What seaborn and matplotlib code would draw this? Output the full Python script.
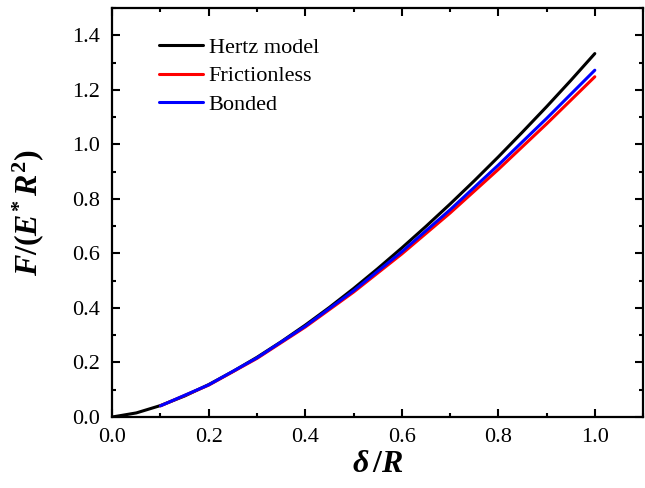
import numpy as np
import pandas as pd
import matplotlib
matplotlib.use('Agg')
import matplotlib.pyplot as plt
from matplotlib.ticker import MultipleLocator
import seaborn as sns

# values
hertz_x = [0.0, 0.05, 0.1, 0.15, 0.2, 0.25, 0.3, 0.35, 0.4, 0.45, 0.5,
           0.55, 0.6, 0.65, 0.7, 0.75, 0.8, 0.85, 0.9, 0.95, 1.0]
hertz_y = [0.0, 0.015, 0.042, 0.077, 0.119, 0.167, 0.219, 0.276, 0.337, 0.402, 0.471,
           0.544, 0.620, 0.699, 0.781, 0.866, 0.954, 1.045, 1.138, 1.234, 1.333]

fe_x = [0.1, 0.2, 0.3, 0.4, 0.5, 0.6, 0.7, 0.8, 0.9, 1.0]
frictionless_y = [0.041, 0.117, 0.215, 0.330, 0.458, 0.598, 0.748, 0.908, 1.075, 1.248]
bonded_y = [0.041, 0.118, 0.217, 0.333, 0.463, 0.606, 0.760, 0.924, 1.095, 1.272]

sns.set_style('ticks', {'axes.edgecolor': 'black', 'text.color': 'black',
                        'axes.labelcolor': 'black', 'xtick.color': 'black',
                        'ytick.color': 'black'})
plt.rcParams['font.family'] = ['Liberation Serif', 'DejaVu Serif']
plt.rcParams['mathtext.fontset'] = 'custom'
plt.rcParams['mathtext.it'] = 'Liberation Serif:italic:bold'
plt.rcParams['mathtext.rm'] = 'Liberation Serif:bold'
plt.rcParams['mathtext.bf'] = 'Liberation Serif:bold'

fig = plt.figure(figsize=(6.45, 4.88), dpi=100)
ax = fig.add_axes([0.174, 0.1455, 0.823, 0.838])

sns.lineplot(x=hertz_x, y=hertz_y, color='black', lw=2.2, label='Hertz model', ax=ax)
sns.lineplot(x=fe_x, y=frictionless_y, color='red', lw=2.2, label='Frictionless', ax=ax)
sns.lineplot(x=fe_x, y=bonded_y, color='blue', lw=2.2, label='Bonded', ax=ax)

ax.set_xlim(0, 1.1)
ax.set_ylim(0, 1.5)
ax.xaxis.set_minor_locator(MultipleLocator(0.1))
ax.yaxis.set_minor_locator(MultipleLocator(0.1))
ax.set_xticks(np.arange(0, 1.01, 0.2))
ax.set_yticks(np.arange(0, 1.41, 0.2))
ax.xaxis.set_major_formatter(lambda v, p: f'{v:.1f}')
ax.yaxis.set_major_formatter(lambda v, p: f'{v:.1f}')

ax.tick_params(which='both', direction='in', top=True, right=True, width=1.5, colors='black')
ax.tick_params(which='major', length=6, labelsize=16)
ax.tick_params(axis='x', which='major', pad=8)
ax.tick_params(axis='y', which='major', pad=8.5)
ax.tick_params(which='minor', length=3)
for s in ax.spines.values():
    s.set_linewidth(1.6)
    s.set_color('black')

ax.set_xlabel(r'$\delta\,/R$', fontsize=23, color='black')
ax.set_ylabel(r'$F/(E^{*}\,R^{2})$', fontsize=23, color='black')
ax.xaxis.set_label_coords(0.5, -0.08)
ax.yaxis.set_label_coords(-0.125, 0.5)

ax.legend(loc='upper left', frameon=False, fontsize=16, handlelength=2.0,
          handletextpad=0.25, labelspacing=0.35, bbox_to_anchor=(0.05, 0.977),
          labelcolor='black')

fig.savefig('out.png', dpi=100)
